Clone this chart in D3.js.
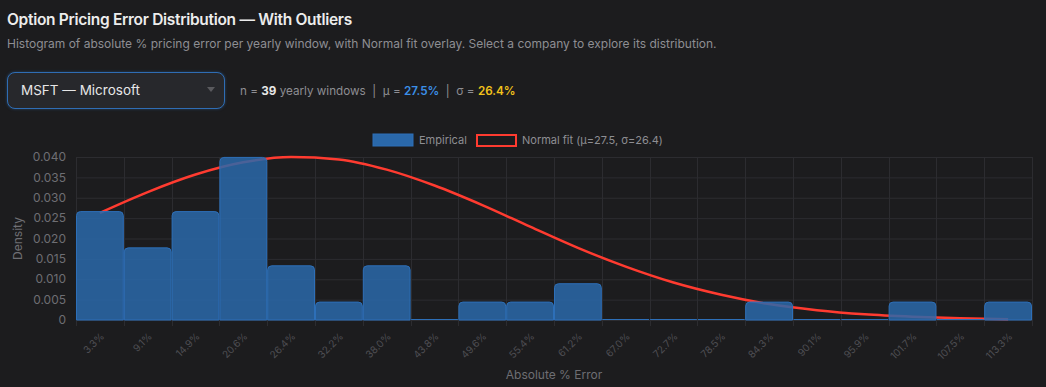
<!DOCTYPE html>
<html>
<head>
<meta charset="utf-8">
<script src="https://cdn.jsdelivr.net/npm/d3@7"></script>
<style>
  html, body { margin: 0; padding: 0; background: #1c1c1e; }
  body { width: 1046px; height: 387px; overflow: hidden; font-family: "Inter", "Roboto", sans-serif; }
  .title { position: absolute; left: 7px; top: 10px; font-size: 15.5px; font-weight: 600; color: #ececec; letter-spacing: -0.3px; }
  .subtitle { position: absolute; left: 7px; top: 36px; font-size: 12px; color: #8e8e93; }
  .select { position: absolute; left: 7px; top: 72px; width: 216px; height: 35px; border: 1.5px solid #2f6db4;
            border-radius: 8px; background: #27282c; box-shadow: 0 0 3px rgba(47,109,180,0.5); }
  .select span { position: absolute; left: 13px; top: 9px; font-size: 13.5px; color: #e6e6e6; }
  .select .arrow { position: absolute; left: 199px; top: 14px; width: 0; height: 0; border-left: 4px solid transparent;
                   border-right: 4px solid transparent; border-top: 5px solid #5a5a5e; }
  .stats { position: absolute; left: 240px; top: 84px; font-size: 11.7px; color: #8e8e93; }
  .stats b { color: #e6e6e6; }
  .stats .mu { color: #3b8fe8; font-weight: 600; }
  .stats .sg { color: #f2c21b; font-weight: 600; }
  svg { position: absolute; left: 0; top: 0; }
</style>
</head>
<body>
<div class="title">Option Pricing Error Distribution — With Outliers</div>
<div class="subtitle">Histogram of absolute % pricing error per yearly window, with Normal fit overlay. Select a company to explore its distribution.</div>
<div class="select"><span>MSFT — Microsoft</span><div class="arrow"></div></div>
<div class="stats">n = <b>39</b> yearly windows &nbsp;|&nbsp; μ = <span class="mu">27.5%</span> &nbsp;|&nbsp; σ = <span class="sg">26.4%</span></div>
<svg id="chart" width="1046" height="387"></svg>
<script>
// bin centres (labels) and empirical density per bin
var binLabels = ["3.3%", "9.1%", "14.9%", "20.6%", "26.4%", "32.2%", "38.0%", "43.8%", "49.6%", "55.4%",
                 "61.2%", "67.0%", "72.7%", "78.5%", "84.3%", "90.1%", "95.9%", "101.7%", "107.5%", "113.3%"];
var density = [0.0266, 0.0177, 0.0266, 0.0399, 0.0133, 0.0044, 0.0133, 0, 0.0044, 0.0044,
               0.0089, 0, 0, 0, 0.0044, 0, 0, 0.0044, 0, 0.0044];
// normal fit curve read at each bin centre
var normalFit = [0.0263, 0.0314, 0.0357, 0.0387, 0.0400, 0.0394, 0.0369, 0.0330, 0.0282, 0.0229,
                 0.0177, 0.0131, 0.0092, 0.0062, 0.0039, 0.0024, 0.0014, 0.0008, 0.0004, 0.0002];
var yTicks = [0, 0.005, 0.01, 0.015, 0.02, 0.025, 0.03, 0.035, 0.04];

var margin = { top: 157, right: 14, bottom: 67, left: 76 },
  width = 1046 - margin.left - margin.right,
  height = 387 - margin.top - margin.bottom;

var svg = d3.select("#chart");
var g = svg.append("g").attr("transform", "translate(" + margin.left + "," + margin.top + ")");

var x = d3.scaleBand().domain(binLabels).range([0, width]).padding(0);
var y = d3.scaleLinear().domain([0, 0.04]).range([height, 0]);

// grid
g.selectAll(".hgrid").data(yTicks).enter().append("line")
  .attr("x1", 0).attr("x2", width)
  .attr("y1", function(d) { return y(d) + 0.5; }).attr("y2", function(d) { return y(d) + 0.5; })
  .attr("stroke", "#2c2c30").attr("stroke-width", 1);
var edges = d3.range(binLabels.length + 1);
g.selectAll(".vgrid").data(edges).enter().append("line")
  .attr("x1", function(i) { return Math.round(i * x.step()) + 0.5; })
  .attr("x2", function(i) { return Math.round(i * x.step()) + 0.5; })
  .attr("y1", 0).attr("y2", height + 6)
  .attr("stroke", "#2c2c30").attr("stroke-width", 1);

// y axis labels
g.selectAll(".ylab").data(yTicks).enter().append("text")
  .attr("x", -10).attr("y", function(d) { return y(d); }).attr("dy", "0.35em")
  .attr("text-anchor", "end").attr("fill", "#6e6e73").style("font-size", "12px")
  .text(function(d) { return d === 0 ? "0" : d3.format(".3f")(d); });

// normal fit line (under bars)
var line = d3.line()
  .x(function(d, i) { return x(binLabels[i]) + x.bandwidth() / 2; })
  .y(function(d) { return y(d); })
  .curve(d3.curveMonotoneX);
g.append("path").datum(normalFit)
  .attr("d", line).attr("fill", "none")
  .attr("stroke", "#ff3b30").attr("stroke-width", 2.5);

// bars
g.selectAll(".bar").data(density).enter().append("path")
  .attr("fill", "rgba(42,104,170,0.85)")
  .attr("stroke", "#2d6fb8").attr("stroke-width", 1)
  .attr("d", function(d, i) {
    var x0 = x(binLabels[i]) + 0.5, x1 = x0 + x.bandwidth() - 1;
    var y0 = y(d), y1 = height;
    var r = Math.min(4, (y1 - y0) / 2);
    if (y1 - y0 < 1) return "M" + x0 + "," + (y1 - 0.5) + "H" + x1;
    return "M" + x0 + "," + (y1) + "V" + (y0 + r) + "Q" + x0 + "," + y0 + " " + (x0 + r) + "," + y0 +
      "H" + (x1 - r) + "Q" + x1 + "," + y0 + " " + x1 + "," + (y0 + r) + "V" + y1 + "Z";
  });

// x tick labels rotated
g.selectAll(".xlab").data(binLabels).enter().append("text")
  .attr("transform", function(d) {
    return "translate(" + (x(d) + x.bandwidth() / 2 + 5) + "," + (height + 17) + ") rotate(-45)";
  })
  .attr("text-anchor", "end").attr("fill", "#4e4e53").style("font-size", "10px")
  .text(function(d) { return d; });

// axis titles
g.append("text").attr("x", width / 2).attr("y", height + 59)
  .attr("text-anchor", "middle").attr("fill", "#6e6e73").style("font-size", "12px")
  .text("Absolute % Error");
g.append("text").attr("transform", "translate(" + (-54) + "," + (height / 2) + ") rotate(-90)")
  .attr("text-anchor", "middle").attr("fill", "#6e6e73").style("font-size", "12px")
  .text("Density");

// legend
var leg = svg.append("g").attr("transform", "translate(373,134)");
leg.append("rect").attr("x", 0).attr("y", 0).attr("width", 40).attr("height", 12)
  .attr("fill", "#2a68aa").attr("stroke", "#2d6fb8");
leg.append("text").attr("x", 46).attr("y", 6).attr("dy", "0.35em")
  .attr("fill", "#8e8e93").style("font-size", "11px").text("Empirical");
leg.append("rect").attr("x", 104).attr("y", 1).attr("width", 39).attr("height", 11)
  .attr("fill", "#1c1c1e").attr("stroke", "#ff3b30").attr("stroke-width", 2);
leg.append("text").attr("x", 149).attr("y", 6).attr("dy", "0.35em")
  .attr("fill", "#8e8e93").style("font-size", "11px").text("Normal fit (μ=27.5, σ=26.4)");
</script>
</body>
</html>
